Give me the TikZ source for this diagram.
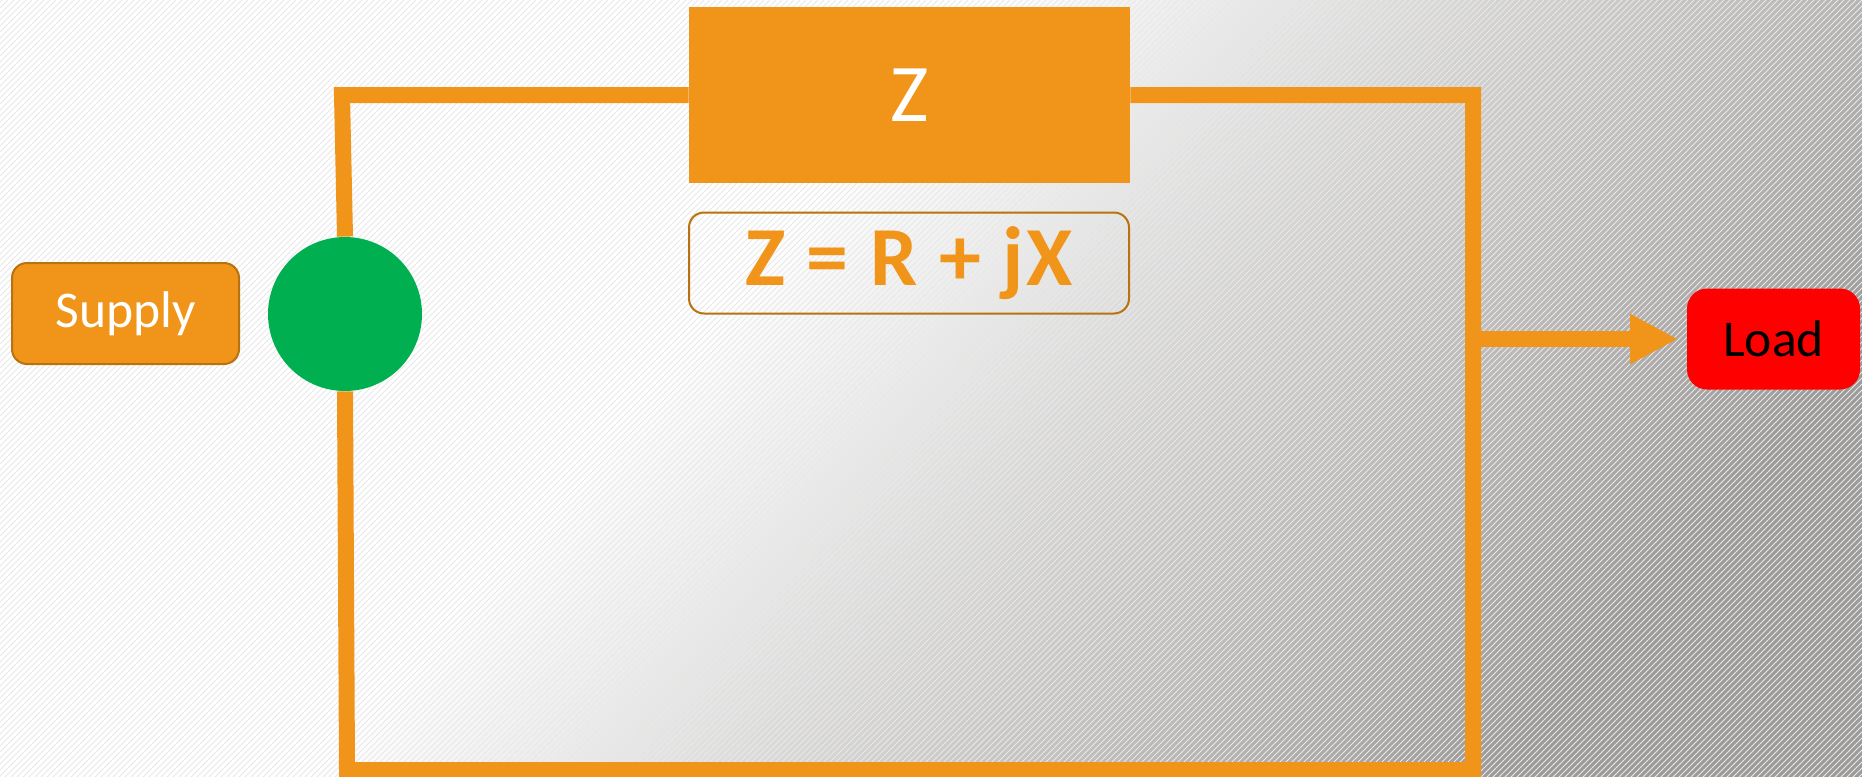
\documentclass[tikz,border=0pt]{standalone}
\usepackage{fontspec}
\setmainfont{Carlito}
\usepackage{tikz}
\usetikzlibrary{arrows.meta,positioning,patterns,calc}
\definecolor{brand}{HTML}{F0951A}
\definecolor{branddark}{HTML}{B8720F}
\definecolor{srcgreen}{HTML}{00B050}
\definecolor{bgdark}{RGB}{157,155,153}
\pgfdeclarehorizontalshading{bgshade}{100bp}{color(0bp)=(white); color(42bp)=(white); color(75bp)=(bgdark); color(100bp)=(bgdark)}

\begin{document}
\begin{tikzpicture}[x=0.5pt,y=-0.5pt,
  wire/.style={brand,line width=8pt},
  arr/.style={wire,-{Triangle[length=24pt,width=23.5pt]}},
  tag/.style={rounded corners=7.5pt,draw=branddark,line width=1pt,minimum height=50.5pt,inner sep=0pt}]
% background
\shade[shading=bgshade,shading angle=-41] (0,0) rectangle (1862,776);
\fill[pattern=north east lines,pattern color=black!9] (0,0) rectangle (1862,776);
\useasboundingbox (0,0) rectangle (1862,776);
% blocks
\node[tag,fill=brand,minimum width=113.5pt,text=white,font=\fontsize{25.8}{30}\selectfont] (S) at (125.5,313.5) {Supply};
\node[circle,fill=srcgreen,minimum size=77pt,inner sep=0pt] (G) at (345,314) {};
\node[fill=brand,minimum width=220.5pt,minimum height=88pt,text=white,font=\fontsize{41}{48}\selectfont] (Z) at (909.5,95) {Z};
\node[tag,minimum width=220pt,text=brand,font=\bfseries\fontsize{42}{48}\selectfont\addfontfeature{LetterSpace=3}] (F) at (909,263) {Z = R + jX};
\node[tag,draw=none,fill=red,rounded corners=10pt,minimum width=86.5pt,font=\fontsize{25.8}{30}\selectfont] (Ld) at (1773.5,339) {Load};
% wiring
\coordinate (tl) at (342,95);
\coordinate (tr) at (1473,95);
\coordinate (br) at (1473,770);
\coordinate (bl) at (347,770);
\draw[wire] (G.north) -- (tl) -- (Z.west);
\draw[wire] (Z.east) -- (tr) -- (br) -- (bl) -- (G.south);
\draw[arr,shorten >=4pt] (tr |- Ld.west) -- (Ld.west);
\end{tikzpicture}
\end{document}
